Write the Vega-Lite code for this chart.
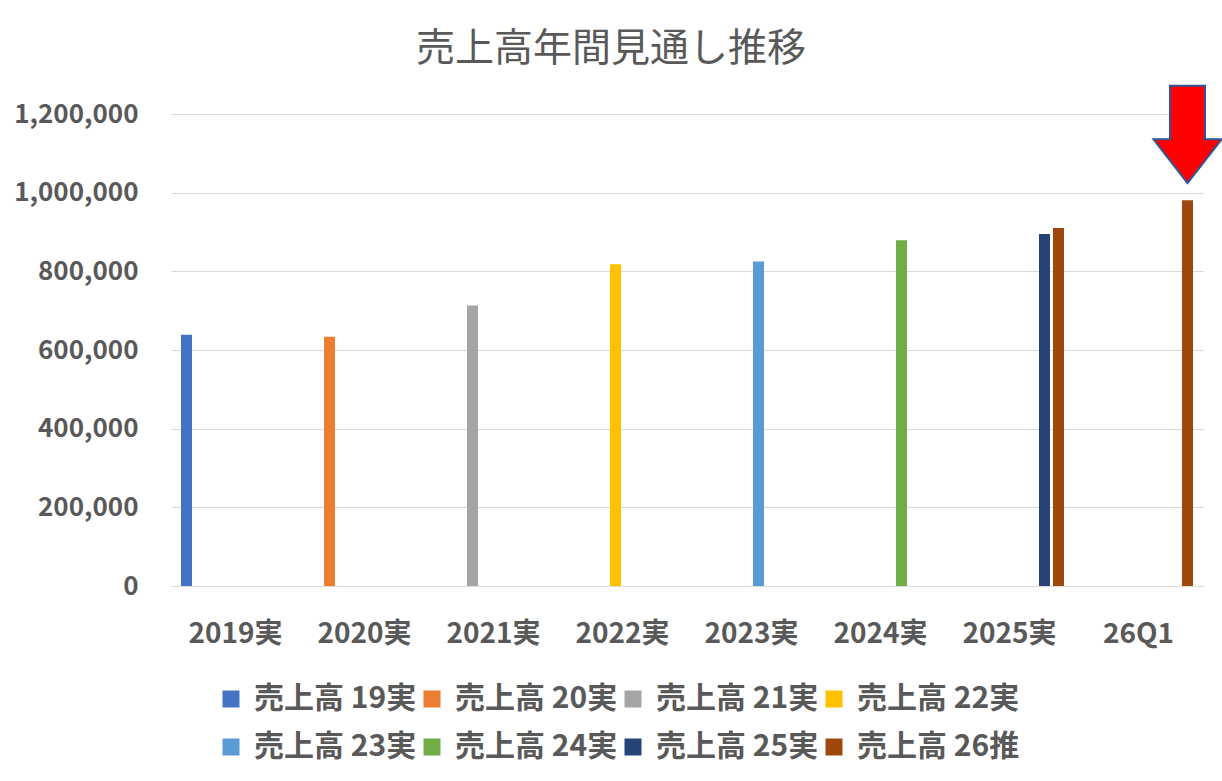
{
  "$schema": "https://vega.github.io/schema/vega-lite/v6.json",
  "width": 1032,
  "height": 472,
  "autosize": "none",
  "padding": {"left": 171, "top": 114, "right": 19, "bottom": 195},
  "background": "white",
  "title": {
    "text": "売上高年間見通し推移",
    "font": "Noto Sans CJK JP",
    "fontSize": 39,
    "fontWeight": "normal",
    "color": "#595959",
    "anchor": "middle",
    "dx": -76,
    "offset": 13
  },
  "datasets": {
    "sales": [
      {"category": "2019実", "series": "売上高 19実", "value": 639000},
      {"category": "2020実", "series": "売上高 20実", "value": 634000},
      {"category": "2021実", "series": "売上高 21実", "value": 713000},
      {"category": "2022実", "series": "売上高 22実", "value": 818000},
      {"category": "2023実", "series": "売上高 23実", "value": 825000},
      {"category": "2024実", "series": "売上高 24実", "value": 879000},
      {"category": "2025実", "series": "売上高 25実", "value": 895000},
      {"category": "2025実", "series": "売上高 26推", "value": 910000},
      {"category": "26Q1", "series": "売上高 26推", "value": 981000}
    ],
    "arrow": [
      {"category": "26Q1", "series": "売上高 26推", "value": 1148000}
    ]
  },
  "layer": [
    {
      "data": {"name": "sales"},
      "mark": {"type": "bar"},
      "encoding": {
        "x": {
          "field": "category",
          "type": "nominal",
          "sort": null,
          "scale": {"paddingInner": 0, "paddingOuter": 0},
          "axis": {
            "title": null,
            "labelAngle": 0,
            "ticks": false,
            "domainColor": "#d9d9d9",
            "domainWidth": 1,
            "labelPadding": 34,
            "labelFontSize": 28,
            "labelFontWeight": "bold",
            "labelColor": "#595959",
            "labelFont": "Noto Sans CJK JP"
          }
        },
        "xOffset": {
          "field": "series",
          "type": "nominal",
          "scale": {
            "domain": ["売上高 19実", "売上高 20実", "売上高 21実", "売上高 22実", "売上高 23実", "売上高 24実", "売上高 25実", "売上高 26推"],
            "paddingInner": 0.214,
            "paddingOuter": 0.714
          }
        },
        "y": {
          "field": "value",
          "type": "quantitative",
          "scale": {"domain": [0, 1200000], "nice": false},
          "axis": {
            "title": null,
            "values": [0, 200000, 400000, 600000, 800000, 1000000, 1200000],
            "format": ",d",
            "domain": false,
            "ticks": false,
            "grid": true,
            "gridColor": "#d9d9d9",
            "gridWidth": 1,
            "labelPadding": 33,
            "labelFontSize": 26,
            "labelFontWeight": "bold",
            "labelColor": "#595959",
            "labelFont": "Noto Sans CJK JP"
          }
        },
        "color": {
          "field": "series",
          "type": "nominal",
          "scale": {
            "domain": ["売上高 19実", "売上高 20実", "売上高 21実", "売上高 22実", "売上高 23実", "売上高 24実", "売上高 25実", "売上高 26推"],
            "range": ["#4472C4", "#ED7D31", "#A5A5A5", "#FFC000", "#5B9BD5", "#70AD47", "#264478", "#9E480E"]
          },
          "legend": {
            "title": null,
            "orient": "none",
            "legendX": 45,
            "legendY": 570,
            "direction": "horizontal",
            "columns": 4,
            "symbolType": "square",
            "symbolSize": 289,
            "symbolStrokeWidth": 0,
            "labelFontSize": 30,
            "labelFontWeight": "bold",
            "labelColor": "#595959",
            "labelFont": "Noto Sans CJK JP",
            "labelOffset": 8,
            "labelLimit": 300,
            "columnPadding": -3,
            "rowPadding": 18,
            "padding": 0
          }
        }
      }
    },
    {
      "data": {"name": "arrow"},
      "mark": {
        "type": "point",
        "shape": "M-0.36,-1L0.36,-1L0.36,0.1L0.7,0.1L0,1L-0.7,0.1L-0.36,0.1Z",
        "size": 9467,
        "filled": true,
        "fill": "#FF0000",
        "stroke": "#2F5597",
        "strokeWidth": 2,
        "opacity": 1
      },
      "encoding": {
        "x": {"field": "category", "type": "nominal", "sort": null},
        "xOffset": {"field": "series", "type": "nominal"},
        "y": {"field": "value", "type": "quantitative"}
      }
    }
  ],
  "config": {
    "view": {"stroke": null}
  }
}
